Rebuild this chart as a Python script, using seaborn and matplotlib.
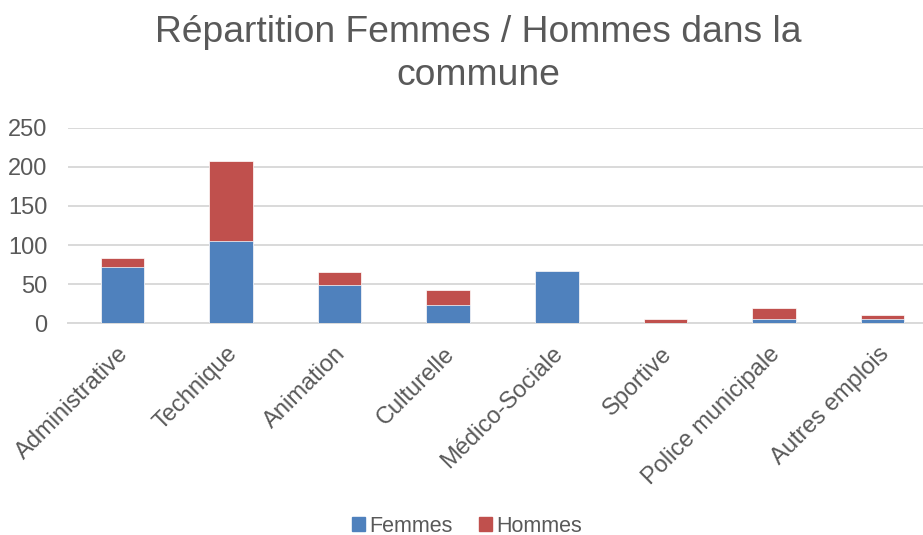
import numpy as np
import pandas as pd
import matplotlib
matplotlib.use("Agg")
import matplotlib.pyplot as plt
import matplotlib.transforms as mtrans
import seaborn as sns
from matplotlib.patches import Patch

# ── Data ──────────────────────────────────────────────────
categories = ["Administrative", "Technique", "Animation", "Culturelle",
              "Médico-Sociale", "Sportive", "Police municipale", "Autres emplois"]
femmes = [72, 105, 49, 23, 67, 0, 5, 6]
hommes = [12, 103, 16, 19, 0, 5, 14, 4]
y_ticks = [0, 50, 100, 150, 200, 250]

BLUE = "#4F81BD"
RED = "#C0504D"
GREY_TXT = "#595959"
GRID = "#D9D9D9"

sns.set_theme(style="white")
plt.rcParams["font.family"] = ["Liberation Sans", "DejaVu Sans"]

df = pd.DataFrame({"cat": categories, "Femmes": femmes, "Hommes": hommes})
df["total"] = df["Femmes"] + df["Hommes"]

fig = plt.figure(figsize=(9.23, 5.35), dpi=100)
ax = fig.add_axes([68 / 923, 1 - 323.3 / 535, 869 / 923, 195.6 / 535])

# stacked: total in red underneath, femmes in blue on top
sns.barplot(data=df, x="cat", y="total", color=RED, saturation=1,
            width=0.4, ax=ax, edgecolor="white", linewidth=0.5, zorder=3)
sns.barplot(data=df, x="cat", y="Femmes", color=BLUE, saturation=1,
            width=0.4, ax=ax, edgecolor="white", linewidth=0.5, zorder=3)

ax.set_ylim(0, 250)
ax.set_xlim(-0.5, len(categories) - 0.5)
ax.set_yticks(y_ticks)
ax.set_xlabel("")
ax.set_ylabel("")
ax.yaxis.grid(True, color=GRID, linewidth=1.4, zorder=0)
ax.set_axisbelow(True)
for s in ["top", "right", "left"]:
    ax.spines[s].set_visible(False)
ax.spines["bottom"].set_color(GRID)
ax.spines["bottom"].set_linewidth(1.4)

ax.tick_params(axis="y", length=0, pad=15, labelsize=17, labelcolor=GREY_TXT)
ax.tick_params(axis="x", length=0, pad=14, labelsize=17, labelcolor=GREY_TXT)
shift = mtrans.ScaledTranslation(-5 / 100, 0, fig.dpi_scale_trans)
for lbl in ax.get_xticklabels():
    lbl.set_rotation(45)
    lbl.set_ha("right")
    lbl.set_va("top")
    lbl.set_rotation_mode("anchor")
    lbl.set_transform(lbl.get_transform() + shift)

fig.text(478 / 923, 1 - 15 / 535, "Répartition Femmes / Hommes dans la\ncommune",
         ha="center", va="top", fontsize=26.8, color=GREY_TXT, linespacing=1.3)

handles = [Patch(color=BLUE, label="Femmes"), Patch(color=RED, label="Hommes")]
fig.legend(handles=handles, loc="center", bbox_to_anchor=(467 / 923, 1 - 526 / 535),
           ncol=2, frameon=False, fontsize=15.5, labelcolor=GREY_TXT,
           handlelength=0.6, handleheight=0.6, handletextpad=0.2, columnspacing=1.2)

fig.savefig("out.png", dpi=100)
